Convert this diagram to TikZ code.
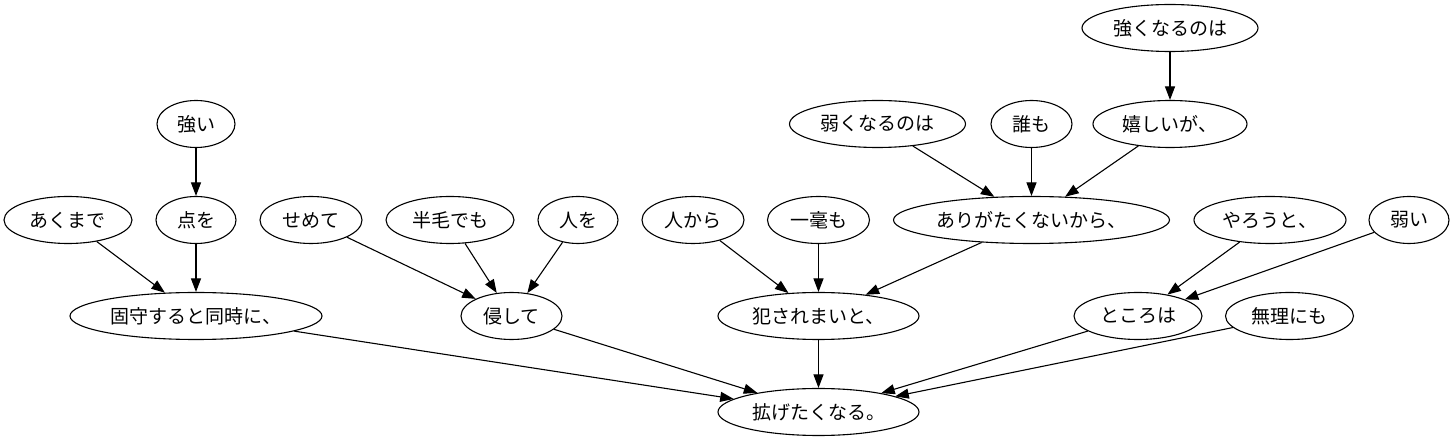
\documentclass[tikz,border=0pt]{standalone}
\usepackage{fontspec}
\setmainfont{Noto Sans CJK JP}
\usetikzlibrary{shapes.geometric,arrows.meta}
\tikzset{
  ell/.style={ellipse, draw, line width=1.1pt, inner sep=0pt, minimum height=47pt,
    font=\fontsize{19}{22}\selectfont},
  edge/.style={line width=1.1pt, -{Triangle[length=13.5pt,width=10pt]}}
}
\begin{document}
\begin{tikzpicture}[x=1pt,y=-1pt]
\useasboundingbox (0,0) rectangle (1452,443);
% rank 0
\node[ell, minimum width=176pt] (tsuyoku) at (1170,28) {強くなるのは};
% rank 1
\node[ell, minimum width=78pt] (tsuyoi) at (196,124) {強い};
\node[ell, minimum width=176pt] (yowaku) at (877.5,124) {弱くなるのは};
\node[ell, minimum width=81pt] (daremo) at (1031.5,124) {誰も};
\node[ell, minimum width=154pt] (ureshii) at (1170,124) {嬉しいが、};
% rank 2
\node[ell, minimum width=128pt] (akumade) at (68,220) {あくまで};
\node[ell, minimum width=80pt] (ten) at (196,220) {点を};
\node[ell, minimum width=102pt] (semete) at (311,220) {せめて};
\node[ell, minimum width=128pt] (hanmou) at (450,220) {半毛でも};
\node[ell, minimum width=80pt] (hitowo) at (578,220) {人を};
\node[ell, minimum width=102pt] (hitokara) at (693,220) {人から};
\node[ell, minimum width=102pt] (ichigou) at (818.5,220) {一毫も};
\node[ell, minimum width=276pt] (arigataku) at (1031.5,220) {ありがたくないから、};
\node[ell, minimum width=152pt] (yarou) at (1270,220) {やろうと、};
\node[ell, minimum width=80pt] (yowai) at (1409,220) {弱い};
% rank 3
\node[ell, minimum width=252pt] (koshu) at (196,316) {固守すると同時に、};
\node[ell, minimum width=101pt] (okashite) at (511.5,316) {侵して};
\node[ell, minimum width=201pt] (okasare) at (818.5,316) {犯されまいと、};
\node[ell, minimum width=128pt] (tokoro) at (1138,316) {ところは};
\node[ell, minimum width=128pt] (muri) at (1289.5,316) {無理にも};
% rank 4
\node[ell, minimum width=201pt] (hiroge) at (818.5,412) {拡げたくなる。};
% edges
\draw[edge] (tsuyoku) -- (ureshii);
\draw[edge] (yowaku) -- (arigataku);
\draw[edge] (daremo) -- (arigataku);
\draw[edge] (ureshii) -- (arigataku);
\draw[edge] (tsuyoi) -- (ten);
\draw[edge] (akumade) -- (koshu);
\draw[edge] (ten) -- (koshu);
\draw[edge] (semete) -- (okashite);
\draw[edge] (hanmou) -- (okashite);
\draw[edge] (hitowo) -- (okashite);
\draw[edge] (hitokara) -- (okasare);
\draw[edge] (ichigou) -- (okasare);
\draw[edge] (arigataku) -- (okasare);
\draw[edge] (yarou) -- (tokoro);
\draw[edge] (yowai) -- (tokoro);
\draw[edge] (koshu) -- (hiroge);
\draw[edge] (okashite) -- (hiroge);
\draw[edge] (okasare) -- (hiroge);
\draw[edge] (tokoro) -- (hiroge);
\draw[edge] (muri) -- (hiroge);
\end{tikzpicture}
\end{document}
